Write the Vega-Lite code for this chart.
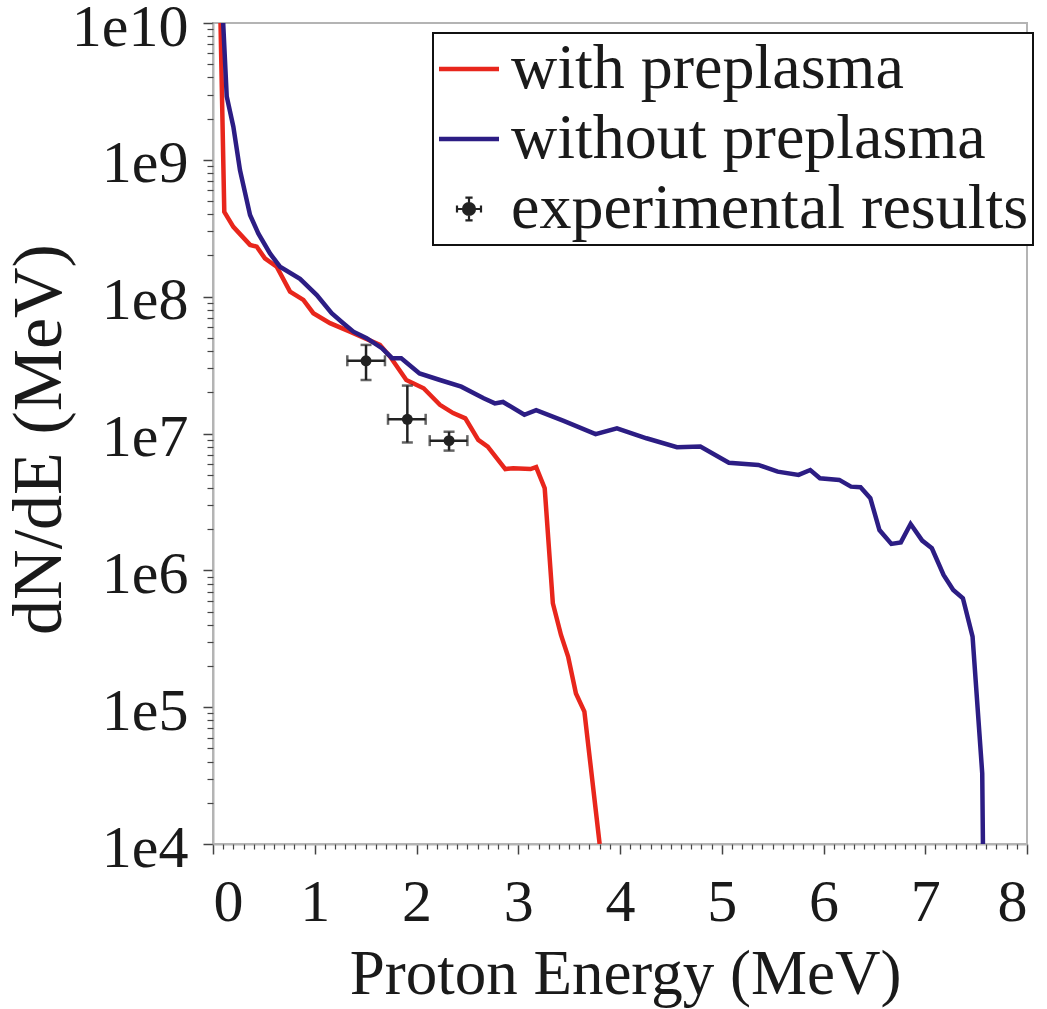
{
  "$schema": "https://vega.github.io/schema/vega-lite/v6.json",
  "width": 814,
  "height": 821,
  "autosize": {"type": "none"},
  "padding": {"left": 213, "top": 23, "right": 20, "bottom": 165},
  "background": "white",
  "datasets": {
    "curves": [
      {"series": "with preplasma", "E": 0.074, "dNdE": 1e10},
      {"series": "with preplasma", "E": 0.111, "dNdE": 4.17e8},
      {"series": "with preplasma", "E": 0.2, "dNdE": 3.24e8},
      {"series": "with preplasma", "E": 0.364, "dNdE": 2.39e8},
      {"series": "with preplasma", "E": 0.43, "dNdE": 2.32e8},
      {"series": "with preplasma", "E": 0.51, "dNdE": 1.905e8},
      {"series": "with preplasma", "E": 0.626, "dNdE": 1.656e8},
      {"series": "with preplasma", "E": 0.757, "dNdE": 1.089e8},
      {"series": "with preplasma", "E": 0.888, "dNdE": 9.46e7},
      {"series": "with preplasma", "E": 0.986, "dNdE": 7.57e7},
      {"series": "with preplasma", "E": 1.15, "dNdE": 6.4e7},
      {"series": "with preplasma", "E": 1.346, "dNdE": 5.55e7},
      {"series": "with preplasma", "E": 1.64, "dNdE": 4.44e7},
      {"series": "with preplasma", "E": 1.74, "dNdE": 3.65e7},
      {"series": "with preplasma", "E": 1.9, "dNdE": 2.46e7},
      {"series": "with preplasma", "E": 2.07, "dNdE": 2.14e7},
      {"series": "with preplasma", "E": 2.23, "dNdE": 1.62e7},
      {"series": "with preplasma", "E": 2.36, "dNdE": 1.41e7},
      {"series": "with preplasma", "E": 2.48, "dNdE": 1.29e7},
      {"series": "with preplasma", "E": 2.607, "dNdE": 8.97e6},
      {"series": "with preplasma", "E": 2.7, "dNdE": 8.02e6},
      {"series": "with preplasma", "E": 2.873, "dNdE": 5.5e6},
      {"series": "with preplasma", "E": 2.95, "dNdE": 5.57e6},
      {"series": "with preplasma", "E": 3.12, "dNdE": 5.5e6},
      {"series": "with preplasma", "E": 3.176, "dNdE": 5.68e6},
      {"series": "with preplasma", "E": 3.26, "dNdE": 3.98e6},
      {"series": "with preplasma", "E": 3.34, "dNdE": 5.75e5},
      {"series": "with preplasma", "E": 3.42, "dNdE": 3.37e5},
      {"series": "with preplasma", "E": 3.49, "dNdE": 2.34e5},
      {"series": "with preplasma", "E": 3.567, "dNdE": 1.26e5},
      {"series": "with preplasma", "E": 3.65, "dNdE": 9.29e4},
      {"series": "with preplasma", "E": 3.8, "dNdE": 1e4},
      {"series": "without preplasma", "E": 0.1, "dNdE": 1e10},
      {"series": "without preplasma", "E": 0.135, "dNdE": 2.9e9},
      {"series": "without preplasma", "E": 0.2, "dNdE": 1.746e9},
      {"series": "without preplasma", "E": 0.265, "dNdE": 8.43e8},
      {"series": "without preplasma", "E": 0.364, "dNdE": 3.95e8},
      {"series": "without preplasma", "E": 0.445, "dNdE": 2.9e8},
      {"series": "without preplasma", "E": 0.56, "dNdE": 2.07e8},
      {"series": "without preplasma", "E": 0.658, "dNdE": 1.656e8},
      {"series": "without preplasma", "E": 0.855, "dNdE": 1.35e8},
      {"series": "without preplasma", "E": 1.02, "dNdE": 1.028e8},
      {"series": "without preplasma", "E": 1.166, "dNdE": 7.57e7},
      {"series": "without preplasma", "E": 1.28, "dNdE": 6.4e7},
      {"series": "without preplasma", "E": 1.38, "dNdE": 5.55e7},
      {"series": "without preplasma", "E": 1.51, "dNdE": 4.97e7},
      {"series": "without preplasma", "E": 1.66, "dNdE": 4.2e7},
      {"series": "without preplasma", "E": 1.76, "dNdE": 3.55e7},
      {"series": "without preplasma", "E": 1.85, "dNdE": 3.55e7},
      {"series": "without preplasma", "E": 2.03, "dNdE": 2.75e7},
      {"series": "without preplasma", "E": 2.23, "dNdE": 2.46e7},
      {"series": "without preplasma", "E": 2.44, "dNdE": 2.2e7},
      {"series": "without preplasma", "E": 2.66, "dNdE": 1.81e7},
      {"series": "without preplasma", "E": 2.77, "dNdE": 1.66e7},
      {"series": "without preplasma", "E": 2.85, "dNdE": 1.7e7},
      {"series": "without preplasma", "E": 3.06, "dNdE": 1.37e7},
      {"series": "without preplasma", "E": 3.176, "dNdE": 1.48e7},
      {"series": "without preplasma", "E": 3.44, "dNdE": 1.24e7},
      {"series": "without preplasma", "E": 3.76, "dNdE": 9.89e6},
      {"series": "without preplasma", "E": 3.97, "dNdE": 1.09e7},
      {"series": "without preplasma", "E": 4.26, "dNdE": 9.23e6},
      {"series": "without preplasma", "E": 4.56, "dNdE": 7.94e6},
      {"series": "without preplasma", "E": 4.79, "dNdE": 8.02e6},
      {"series": "without preplasma", "E": 5.07, "dNdE": 6.12e6},
      {"series": "without preplasma", "E": 5.36, "dNdE": 5.89e6},
      {"series": "without preplasma", "E": 5.55, "dNdE": 5.26e6},
      {"series": "without preplasma", "E": 5.755, "dNdE": 4.98e6},
      {"series": "without preplasma", "E": 5.87, "dNdE": 5.41e6},
      {"series": "without preplasma", "E": 5.965, "dNdE": 4.71e6},
      {"series": "without preplasma", "E": 6.155, "dNdE": 4.58e6},
      {"series": "without preplasma", "E": 6.27, "dNdE": 4.09e6},
      {"series": "without preplasma", "E": 6.364, "dNdE": 4.05e6},
      {"series": "without preplasma", "E": 6.46, "dNdE": 3.37e6},
      {"series": "without preplasma", "E": 6.55, "dNdE": 1.97e6},
      {"series": "without preplasma", "E": 6.667, "dNdE": 1.56e6},
      {"series": "without preplasma", "E": 6.76, "dNdE": 1.6e6},
      {"series": "without preplasma", "E": 6.856, "dNdE": 2.18e6},
      {"series": "without preplasma", "E": 6.97, "dNdE": 1.65e6},
      {"series": "without preplasma", "E": 7.065, "dNdE": 1.45e6},
      {"series": "without preplasma", "E": 7.18, "dNdE": 9.25e5},
      {"series": "without preplasma", "E": 7.275, "dNdE": 7.19e5},
      {"series": "without preplasma", "E": 7.37, "dNdE": 6.25e5},
      {"series": "without preplasma", "E": 7.465, "dNdE": 3.28e5},
      {"series": "without preplasma", "E": 7.56, "dNdE": 3.29e4},
      {"series": "without preplasma", "E": 7.567, "dNdE": 1e4}
    ],
    "exp": [
      {"E": 1.504, "y": 3.4e7, "ylo": 2.46e7, "yhi": 4.44e7, "xlo": 1.32, "xhi": 1.69},
      {"E": 1.91, "y": 1.27e7, "ylo": 8.6e6, "yhi": 2.24e7, "xlo": 1.72, "xhi": 2.09},
      {"E": 2.32, "y": 8.87e6, "ylo": 7.5e6, "yhi": 1.03e7, "xlo": 2.13, "xhi": 2.5}
    ]
  },
  "layer": [
    {
      "data": {"name": "curves"},
      "mark": {"type": "line", "strokeWidth": 4.5, "clip": true},
      "encoding": {
        "x": {
          "field": "E", "type": "quantitative",
          "scale": {"domain": [0, 8], "nice": false, "zero": false},
          "axis": {
            "orient": "bottom",
            "values": [0, 1, 2, 3, 4, 5, 6, 7, 8],
            "format": "d",
            "tickSize": 10, "tickWidth": 1.5,
            "labelFontSize": 60, "labelPadding": 19,
            "title": "Proton Energy (MeV)",
            "titleFontSize": 63,
            "titleX": 412, "titleY": 149,
            "titleAlign": "center", "titleBaseline": "alphabetic"
          }
        },
        "y": {
          "field": "dNdE", "type": "quantitative",
          "scale": {"type": "log", "domain": [1e4, 1e10], "nice": false},
          "axis": {
            "orient": "left",
            "values": [1e4, 1e5, 1e6, 1e7, 1e8, 1e9, 1e10],
            "labelExpr": "'1e' + round(log(datum.value) / LN10)",
            "tickSize": 10, "tickWidth": 1.5,
            "labelFontSize": 60, "labelPadding": 15, "labelOffset": 4,
            "title": "dN/dE (MeV)",
            "titleFontSize": 70,
            "titleAngle": -90,
            "titleX": -153, "titleY": 416,
            "titleAlign": "center", "titleBaseline": "alphabetic"
          }
        },
        "color": {
          "field": "series", "type": "nominal",
          "scale": {
            "domain": ["with preplasma", "without preplasma", "experimental results"],
            "range": ["#e8261c", "#2c1d84", "#222222"]
          },
          "legend": {
            "title": null,
            "orient": "none",
            "legendX": 220,
            "legendY": 10,
            "symbolType": "stroke",
            "encode": {
              "symbols": {
                "update": {
                  "shape": {"signal": "datum.value === 'experimental results' ? 'M-0.4,0H0.4M-0.4,-0.12V0.12M0.4,-0.12V0.12M0,-0.38V0.38M-0.12,-0.38H0.12M-0.12,0.38H0.12M-0.2,0A0.2,0.2 0 1,0 0.2,0A0.2,0.2 0 1,0 -0.2,0Z' : 'stroke'"},
                  "fill": {"signal": "datum.value === 'experimental results' ? '#222222' : 'transparent'"},
                  "strokeWidth": {"signal": "datum.value === 'experimental results' ? 2.2 : 4.5"}
                }
              },
              "legend": {"update": {"strokeWidth": {"value": 2}}}
            }
          }
        }
      }
    },
    {
      "data": {"name": "exp"},
      "mark": {"type": "rule", "color": "#222222", "strokeWidth": 2.5},
      "encoding": {
        "x": {
          "field": "E", "type": "quantitative",
          "axis": {
            "orient": "bottom",
            "values": [0.1,0.2,0.3,0.4,0.5,0.6,0.7,0.8,0.9,1.1,1.2,1.3,1.4,1.5,1.6,1.7,1.8,1.9,2.1,2.2,2.3,2.4,2.5,2.6,2.7,2.8,2.9,3.1,3.2,3.3,3.4,3.5,3.6,3.7,3.8,3.9,4.1,4.2,4.3,4.4,4.5,4.6,4.7,4.8,4.9,5.1,5.2,5.3,5.4,5.5,5.6,5.7,5.8,5.9,6.1,6.2,6.3,6.4,6.5,6.6,6.7,6.8,6.9,7.1,7.2,7.3,7.4,7.5,7.6,7.7,7.8,7.9],
            "labels": false, "domain": false, "title": null,
            "tickSize": 5, "tickWidth": 1.2
          }
        },
        "y": {
          "field": "ylo", "type": "quantitative",
          "axis": {
            "orient": "left",
            "values": [2e4,3e4,4e4,5e4,6e4,7e4,8e4,9e4,2e5,3e5,4e5,5e5,6e5,7e5,8e5,9e5,2e6,3e6,4e6,5e6,6e6,7e6,8e6,9e6,2e7,3e7,4e7,5e7,6e7,7e7,8e7,9e7,2e8,3e8,4e8,5e8,6e8,7e8,8e8,9e8,2e9,3e9,4e9,5e9,6e9,7e9,8e9,9e9],
            "labels": false, "domain": false, "title": null,
            "tickSize": 6, "tickWidth": 1.2
          }
        },
        "y2": {"field": "yhi"}
      }
    },
    {
      "data": {"name": "exp"},
      "mark": {"type": "rule", "color": "#222222", "strokeWidth": 2.5},
      "encoding": {
        "x": {"field": "xlo", "type": "quantitative", "axis": null},
        "x2": {"field": "xhi"},
        "y": {"field": "y", "type": "quantitative", "axis": null}
      }
    },
    {
      "data": {"name": "exp"},
      "mark": {"type": "tick", "orient": "horizontal", "color": "#222222", "size": 11, "thickness": 2.5},
      "encoding": {
        "x": {"field": "E", "type": "quantitative", "axis": null},
        "y": {"field": "ylo", "type": "quantitative", "axis": null}
      }
    },
    {
      "data": {"name": "exp"},
      "mark": {"type": "tick", "orient": "horizontal", "color": "#222222", "size": 11, "thickness": 2.5},
      "encoding": {
        "x": {"field": "E", "type": "quantitative", "axis": null},
        "y": {"field": "yhi", "type": "quantitative", "axis": null}
      }
    },
    {
      "data": {"name": "exp"},
      "mark": {"type": "tick", "orient": "vertical", "color": "#222222", "size": 11, "thickness": 2.5},
      "encoding": {
        "x": {"field": "xlo", "type": "quantitative", "axis": null},
        "y": {"field": "y", "type": "quantitative", "axis": null}
      }
    },
    {
      "data": {"name": "exp"},
      "mark": {"type": "tick", "orient": "vertical", "color": "#222222", "size": 11, "thickness": 2.5},
      "encoding": {
        "x": {"field": "xhi", "type": "quantitative", "axis": null},
        "y": {"field": "y", "type": "quantitative", "axis": null}
      }
    },
    {
      "data": {"name": "exp"},
      "mark": {"type": "point", "filled": true, "color": "#222222", "size": 120, "opacity": 1},
      "encoding": {
        "x": {"field": "E", "type": "quantitative", "axis": null},
        "y": {"field": "y", "type": "quantitative", "axis": null}
      }
    }
  ],
  "resolve": {"axis": {"x": "independent", "y": "independent"}},
  "config": {
    "view": {"stroke": "#b4b4b4", "strokeWidth": 2},
    "axis": {
      "grid": false,
      "domainColor": "#b4b4b4",
      "domainWidth": 2,
      "tickColor": "#444444",
      "labelFont": "Liberation Serif",
      "titleFont": "Liberation Serif",
      "labelColor": "#1a1a1a",
      "titleColor": "#1a1a1a",
      "titleFontWeight": "normal"
    },
    "legend": {
      "strokeColor": "#111111",
      "fillColor": "white",
      "padding": 4,
      "labelFont": "Liberation Serif",
      "labelFontSize": 64,
      "labelColor": "#1a1a1a",
      "labelLimit": 1000,
      "labelOffset": 10,
      "symbolSize": 3600,
      "symbolStrokeWidth": 4.5,
      "rowPadding": 6
    }
  }
}
